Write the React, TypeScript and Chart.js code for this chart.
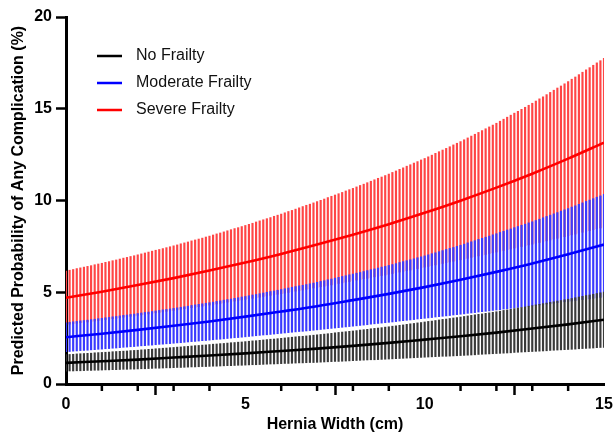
import React, { useEffect, useRef } from "react";
import { Chart, registerables } from "chart.js";

Chart.register(...registerables);

const FONT = '"Liberation Sans", Arial, Helvetica, sans-serif';

// Fitted curve values at each whole cm of hernia width
const widthKnots = [0, 1, 2, 3, 4, 5, 6, 7, 8, 9, 10, 11, 12, 13, 14, 15];
const noFrailty = [1.15, 1.24, 1.33, 1.44, 1.55, 1.67, 1.8, 1.93, 2.08, 2.24, 2.42, 2.6, 2.8, 3.02, 3.25, 3.5];
const moderateFrailty = [2.55, 2.74, 2.95, 3.17, 3.41, 3.67, 3.95, 4.24, 4.57, 4.91, 5.28, 5.68, 6.11, 6.57, 7.07, 7.6];
const severeFrailty = [4.7, 5.03, 5.39, 5.77, 6.18, 6.62, 7.09, 7.6, 8.14, 8.71, 9.33, 9.99, 10.7, 11.46, 12.28, 13.15];

// Confidence-interval bars every 0.1 cm
const xFine = [
  0.0, 0.1, 0.2, 0.3, 0.4, 0.5, 0.6, 0.7, 0.8, 0.9,
  1.0, 1.1, 1.2, 1.3, 1.4, 1.5, 1.6, 1.7, 1.8, 1.9,
  2.0, 2.1, 2.2, 2.3, 2.4, 2.5, 2.6, 2.7, 2.8, 2.9,
  3.0, 3.1, 3.2, 3.3, 3.4, 3.5, 3.6, 3.7, 3.8, 3.9,
  4.0, 4.1, 4.2, 4.3, 4.4, 4.5, 4.6, 4.7, 4.8, 4.9,
  5.0, 5.1, 5.2, 5.3, 5.4, 5.5, 5.6, 5.7, 5.8, 5.9,
  6.0, 6.1, 6.2, 6.3, 6.4, 6.5, 6.6, 6.7, 6.8, 6.9,
  7.0, 7.1, 7.2, 7.3, 7.4, 7.5, 7.6, 7.7, 7.8, 7.9,
  8.0, 8.1, 8.2, 8.3, 8.4, 8.5, 8.6, 8.7, 8.8, 8.9,
  9.0, 9.1, 9.2, 9.3, 9.4, 9.5, 9.6, 9.7, 9.8, 9.9,
  10.0, 10.1, 10.2, 10.3, 10.4, 10.5, 10.6, 10.7, 10.8, 10.9,
  11.0, 11.1, 11.2, 11.3, 11.4, 11.5, 11.6, 11.7, 11.8, 11.9,
  12.0, 12.1, 12.2, 12.3, 12.4, 12.5, 12.6, 12.7, 12.8, 12.9,
  13.0, 13.1, 13.2, 13.3, 13.4, 13.5, 13.6, 13.7, 13.8, 13.9,
  14.0, 14.1, 14.2, 14.3, 14.4, 14.5, 14.6, 14.7, 14.8, 14.9,
  15.0,
];

const noFrailtyLow = [
  0.70, 0.71, 0.71, 0.72, 0.72, 0.73, 0.74, 0.74, 0.75, 0.75,
  0.76, 0.77, 0.77, 0.78, 0.78, 0.79, 0.80, 0.80, 0.81, 0.81,
  0.82, 0.83, 0.83, 0.84, 0.85, 0.86, 0.86, 0.87, 0.88, 0.88,
  0.89, 0.90, 0.90, 0.91, 0.92, 0.93, 0.93, 0.94, 0.95, 0.95,
  0.96, 0.97, 0.97, 0.98, 0.99, 1.00, 1.00, 1.01, 1.02, 1.02,
  1.03, 1.04, 1.05, 1.05, 1.06, 1.07, 1.08, 1.09, 1.09, 1.10,
  1.11, 1.12, 1.12, 1.13, 1.14, 1.15, 1.15, 1.16, 1.17, 1.17,
  1.18, 1.19, 1.20, 1.21, 1.22, 1.23, 1.23, 1.24, 1.25, 1.26,
  1.27, 1.28, 1.29, 1.30, 1.31, 1.32, 1.32, 1.33, 1.34, 1.35,
  1.36, 1.37, 1.38, 1.39, 1.40, 1.41, 1.42, 1.43, 1.44, 1.45,
  1.46, 1.47, 1.48, 1.49, 1.50, 1.51, 1.51, 1.52, 1.53, 1.54,
  1.55, 1.56, 1.57, 1.58, 1.59, 1.61, 1.62, 1.63, 1.64, 1.65,
  1.66, 1.67, 1.68, 1.69, 1.70, 1.72, 1.73, 1.74, 1.75, 1.76,
  1.77, 1.78, 1.79, 1.80, 1.81, 1.83, 1.84, 1.85, 1.86, 1.87,
  1.88, 1.89, 1.90, 1.92, 1.93, 1.94, 1.95, 1.96, 1.98, 1.99,
  2.00,
];
const noFrailtyHigh = [
  1.60, 1.61, 1.62, 1.64, 1.65, 1.66, 1.67, 1.68, 1.70, 1.71,
  1.72, 1.73, 1.74, 1.76, 1.77, 1.78, 1.79, 1.80, 1.82, 1.83,
  1.84, 1.86, 1.87, 1.89, 1.90, 1.92, 1.93, 1.95, 1.96, 1.98,
  1.99, 2.01, 2.02, 2.04, 2.05, 2.07, 2.09, 2.10, 2.12, 2.13,
  2.15, 2.17, 2.18, 2.20, 2.21, 2.23, 2.25, 2.26, 2.28, 2.29,
  2.31, 2.33, 2.35, 2.36, 2.38, 2.40, 2.42, 2.44, 2.45, 2.47,
  2.49, 2.51, 2.53, 2.55, 2.57, 2.59, 2.60, 2.62, 2.64, 2.66,
  2.68, 2.70, 2.72, 2.74, 2.76, 2.79, 2.81, 2.83, 2.85, 2.87,
  2.89, 2.91, 2.94, 2.96, 2.98, 3.01, 3.03, 3.05, 3.07, 3.10,
  3.12, 3.15, 3.17, 3.20, 3.22, 3.25, 3.28, 3.30, 3.33, 3.35,
  3.38, 3.41, 3.43, 3.46, 3.49, 3.52, 3.54, 3.57, 3.60, 3.62,
  3.65, 3.68, 3.71, 3.74, 3.77, 3.80, 3.82, 3.85, 3.88, 3.91,
  3.94, 3.97, 4.01, 4.04, 4.07, 4.11, 4.14, 4.17, 4.20, 4.24,
  4.27, 4.31, 4.34, 4.38, 4.41, 4.45, 4.48, 4.52, 4.55, 4.59,
  4.62, 4.66, 4.70, 4.74, 4.78, 4.82, 4.85, 4.89, 4.93, 4.97,
  5.01,
];

const moderateLow = [
  1.76, 1.77, 1.79, 1.80, 1.82, 1.83, 1.84, 1.86, 1.87, 1.89,
  1.90, 1.92, 1.93, 1.95, 1.96, 1.98, 2.00, 2.01, 2.03, 2.04,
  2.06, 2.08, 2.09, 2.11, 2.12, 2.14, 2.16, 2.17, 2.19, 2.20,
  2.22, 2.24, 2.25, 2.27, 2.29, 2.31, 2.32, 2.34, 2.36, 2.37,
  2.39, 2.41, 2.43, 2.44, 2.46, 2.48, 2.50, 2.52, 2.53, 2.55,
  2.57, 2.59, 2.61, 2.63, 2.65, 2.67, 2.68, 2.70, 2.72, 2.74,
  2.76, 2.78, 2.80, 2.82, 2.84, 2.86, 2.87, 2.89, 2.91, 2.93,
  2.95, 2.97, 2.99, 3.01, 3.03, 3.05, 3.07, 3.09, 3.11, 3.13,
  3.15, 3.17, 3.19, 3.21, 3.23, 3.26, 3.28, 3.30, 3.32, 3.34,
  3.36, 3.38, 3.40, 3.43, 3.45, 3.47, 3.49, 3.51, 3.54, 3.56,
  3.58, 3.60, 3.62, 3.65, 3.67, 3.69, 3.71, 3.73, 3.76, 3.78,
  3.80, 3.82, 3.85, 3.87, 3.89, 3.92, 3.94, 3.96, 3.98, 4.01,
  4.03, 4.05, 4.08, 4.10, 4.12, 4.15, 4.17, 4.19, 4.21, 4.24,
  4.26, 4.28, 4.31, 4.33, 4.36, 4.38, 4.40, 4.43, 4.45, 4.48,
  4.50, 4.52, 4.55, 4.57, 4.60, 4.62, 4.64, 4.67, 4.69, 4.72,
  4.74,
];
const moderateHigh = [
  3.34, 3.36, 3.39, 3.41, 3.44, 3.46, 3.48, 3.51, 3.53, 3.56,
  3.58, 3.61, 3.63, 3.66, 3.68, 3.71, 3.74, 3.76, 3.79, 3.81,
  3.84, 3.87, 3.90, 3.92, 3.95, 3.98, 4.01, 4.04, 4.06, 4.09,
  4.12, 4.15, 4.18, 4.21, 4.24, 4.28, 4.31, 4.34, 4.37, 4.40,
  4.43, 4.46, 4.50, 4.53, 4.57, 4.60, 4.63, 4.67, 4.70, 4.74,
  4.77, 4.81, 4.85, 4.88, 4.92, 4.96, 5.00, 5.04, 5.07, 5.11,
  5.15, 5.19, 5.23, 5.27, 5.31, 5.35, 5.38, 5.42, 5.46, 5.50,
  5.54, 5.59, 5.63, 5.68, 5.72, 5.77, 5.81, 5.86, 5.90, 5.95,
  5.99, 6.04, 6.08, 6.13, 6.18, 6.23, 6.27, 6.32, 6.37, 6.41,
  6.46, 6.51, 6.56, 6.62, 6.67, 6.72, 6.77, 6.82, 6.88, 6.93,
  6.98, 7.04, 7.10, 7.15, 7.21, 7.27, 7.33, 7.39, 7.44, 7.50,
  7.56, 7.62, 7.69, 7.75, 7.81, 7.88, 7.94, 8.00, 8.06, 8.13,
  8.19, 8.26, 8.32, 8.39, 8.45, 8.52, 8.58, 8.65, 8.71, 8.78,
  8.84, 8.91, 8.98, 9.06, 9.13, 9.20, 9.27, 9.34, 9.42, 9.49,
  9.56, 9.64, 9.71, 9.79, 9.87, 9.95, 10.02, 10.10, 10.18, 10.25,
  10.33,
];

const severeLow = [
  3.24, 3.26, 3.29, 3.31, 3.34, 3.36, 3.38, 3.41, 3.43, 3.46,
  3.48, 3.51, 3.53, 3.56, 3.58, 3.61, 3.64, 3.66, 3.69, 3.71,
  3.74, 3.77, 3.79, 3.82, 3.85, 3.88, 3.90, 3.93, 3.96, 3.98,
  4.01, 4.04, 4.07, 4.10, 4.13, 4.16, 4.18, 4.21, 4.24, 4.27,
  4.30, 4.33, 4.36, 4.39, 4.42, 4.46, 4.49, 4.52, 4.55, 4.58,
  4.61, 4.64, 4.67, 4.70, 4.73, 4.77, 4.80, 4.83, 4.86, 4.89,
  4.92, 4.95, 4.99, 5.02, 5.06, 5.09, 5.12, 5.16, 5.19, 5.23,
  5.26, 5.30, 5.33, 5.37, 5.40, 5.44, 5.48, 5.51, 5.55, 5.58,
  5.62, 5.66, 5.69, 5.73, 5.76, 5.80, 5.84, 5.87, 5.91, 5.94,
  5.98, 6.02, 6.06, 6.10, 6.14, 6.18, 6.21, 6.25, 6.29, 6.33,
  6.37, 6.41, 6.45, 6.49, 6.53, 6.57, 6.61, 6.65, 6.69, 6.73,
  6.77, 6.81, 6.85, 6.90, 6.94, 6.98, 7.02, 7.06, 7.11, 7.15,
  7.19, 7.23, 7.28, 7.32, 7.36, 7.41, 7.45, 7.49, 7.53, 7.58,
  7.62, 7.67, 7.71, 7.76, 7.80, 7.85, 7.90, 7.94, 7.99, 8.03,
  8.08, 8.13, 8.17, 8.22, 8.27, 8.32, 8.36, 8.41, 8.46, 8.50,
  8.55,
];
const severeHigh = [
  6.16, 6.20, 6.24, 6.29, 6.33, 6.37, 6.41, 6.45, 6.50, 6.54,
  6.58, 6.63, 6.67, 6.72, 6.76, 6.81, 6.86, 6.90, 6.95, 6.99,
  7.04, 7.09, 7.14, 7.19, 7.24, 7.29, 7.33, 7.38, 7.43, 7.48,
  7.53, 7.58, 7.64, 7.69, 7.74, 7.80, 7.85, 7.90, 7.95, 8.01,
  8.06, 8.12, 8.18, 8.23, 8.29, 8.35, 8.41, 8.47, 8.52, 8.58,
  8.64, 8.70, 8.76, 8.83, 8.89, 8.95, 9.01, 9.07, 9.14, 9.20,
  9.26, 9.33, 9.40, 9.46, 9.53, 9.60, 9.67, 9.74, 9.80, 9.87,
  9.94, 10.01, 10.08, 10.16, 10.23, 10.30, 10.37, 10.44, 10.52, 10.59,
  10.66, 10.74, 10.82, 10.89, 10.97, 11.05, 11.13, 11.21, 11.28, 11.36,
  11.44, 11.53, 11.61, 11.70, 11.78, 11.87, 11.95, 12.04, 12.12, 12.21,
  12.29, 12.38, 12.47, 12.57, 12.66, 12.75, 12.84, 12.93, 13.03, 13.12,
  13.21, 13.31, 13.41, 13.51, 13.61, 13.71, 13.81, 13.91, 14.01, 14.11,
  14.21, 14.32, 14.43, 14.54, 14.65, 14.76, 14.86, 14.97, 15.08, 15.19,
  15.30, 15.42, 15.54, 15.65, 15.77, 15.89, 16.01, 16.13, 16.24, 16.36,
  16.48, 16.61, 16.73, 16.86, 16.99, 17.12, 17.24, 17.37, 17.50, 17.62,
  17.75,
];

const seriesLabels = ["No Frailty", "Moderate Frailty", "Severe Frailty"];
const seriesColors = ["#000000", "#0000ff", "#ff0000"];
const barColors = ["#3a3a3a", "#3a3aff", "#ff4545"];
const minorXTicks = [1, 2, 3, 4, 6, 7, 8, 9, 11, 12, 13, 14];

const overlayPlugin = {
  id: "overlay",
  afterDraw(chart: any) {
    const { ctx, chartArea, scales } = chart;
    const x = scales.x;
    ctx.save();
    // minor x ticks
    ctx.strokeStyle = "#000";
    ctx.lineWidth = 2.5;
    for (const v of minorXTicks) {
      const px = x.getPixelForValue(v);
      ctx.beginPath();
      ctx.moveTo(px, chartArea.bottom);
      ctx.lineTo(px, chartArea.bottom + 7);
      ctx.stroke();
    }
    // legend
    ctx.font = `16px ${FONT}`;
    ctx.textBaseline = "middle";
    ctx.textAlign = "left";
    seriesLabels.forEach((label, i) => {
      const y = chartArea.top + 39 + i * 27;
      ctx.strokeStyle = seriesColors[i];
      ctx.lineWidth = 2.5;
      ctx.beginPath();
      ctx.moveTo(chartArea.left + 31, y);
      ctx.lineTo(chartArea.left + 56, y);
      ctx.stroke();
      ctx.fillStyle = "#111";
      ctx.fillText(label, chartArea.left + 70, y);
    });
    ctx.restore();
  },
};

export default function App() {
  const canvasRef = useRef<HTMLCanvasElement | null>(null);

  useEffect(() => {
    if (!canvasRef.current) return;
    const lows = [noFrailtyLow, moderateLow, severeLow];
    const highs = [noFrailtyHigh, moderateHigh, severeHigh];
    const centers = [noFrailty, moderateFrailty, severeFrailty];

    const barSets = [0, 1, 2].map((s) => ({
      type: "bar" as const,
      label: seriesLabels[s] + " CI",
      data: xFine.map((xv, i) => ({ x: xv, y: [lows[s][i], highs[s][i]] })),
      backgroundColor: barColors[s],
      borderWidth: 0,
      barThickness: 1.5,
      grouped: false,
      order: 1 + s,
    }));
    const lineSets = [0, 1, 2].map((s) => ({
      type: "line" as const,
      label: seriesLabels[s],
      data: widthKnots.map((xv, i) => ({ x: xv, y: centers[s][i] })),
      borderColor: seriesColors[s],
      backgroundColor: seriesColors[s],
      borderWidth: 2.6,
      pointRadius: 0,
      cubicInterpolationMode: "monotone" as const,
      fill: false,
      order: 0,
    }));

    const chart = new Chart(canvasRef.current, {
      type: "line",
      data: { datasets: [...barSets, ...lineSets] as any },
      options: {
        animation: false,
        responsive: false,
        devicePixelRatio: 1,
        layout: { padding: { top: 17, right: 9, left: 0, bottom: 0 } },
        plugins: { legend: { display: false }, tooltip: { enabled: false } },
        scales: {
          x: {
            type: "linear",
            min: 0,
            max: 15,
            offset: false,
            afterFit: (scale: any) => {
              scale.height = 55;
            },
            ticks: {
              stepSize: 5,
              color: "#000",
              padding: 0,
              font: { family: FONT, size: 16, weight: "bold" },
              maxRotation: 0,
            },
            grid: {
              drawOnChartArea: false,
              drawTicks: true,
              tickLength: 11,
              tickWidth: 2.5,
              tickColor: "#000",
            },
            border: { display: true, color: "#000", width: 3 },
            title: {
              display: true,
              text: "Hernia Width (cm)",
              color: "#000",
              font: { family: FONT, size: 16, weight: "bold" },
              padding: { top: 0, bottom: 5 },
            },
          },
          y: {
            type: "linear",
            min: 0,
            max: 20,
            afterFit: (scale: any) => {
              scale.width = 66;
            },
            ticks: {
              stepSize: 5,
              color: "#000",
              padding: 4,
              font: { family: FONT, size: 16, weight: "bold" },
            },
            grid: {
              drawOnChartArea: false,
              drawTicks: true,
              tickLength: 10,
              tickWidth: 2.5,
              tickColor: "#000",
            },
            border: { display: true, color: "#000", width: 3 },
            title: {
              display: true,
              text: "Predicted Probability of Any Complication (%)",
              color: "#000",
              font: { family: FONT, size: 16, weight: "bold" },
              padding: { top: 9, bottom: 0 },
            },
          },
        },
      },
      plugins: [overlayPlugin],
    });
    return () => chart.destroy();
  }, []);

  return (
    <div style={{ position: "fixed", left: 0, top: 0, width: 613, height: 439, background: "#fff" }}>
      <canvas ref={canvasRef} width={613} height={439} style={{ display: "block" }} />
    </div>
  );
}
